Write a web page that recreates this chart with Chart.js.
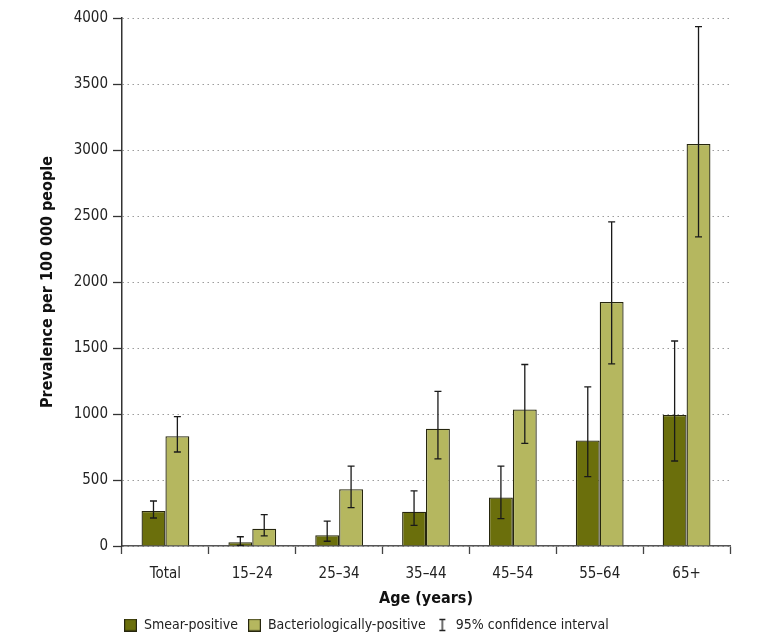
<!DOCTYPE html>
<html>
<head>
<meta charset="utf-8">
<script src="https://cdn.jsdelivr.net/npm/chart.js@4/dist/chart.umd.min.js"></script>
<style>
  html,body{margin:0;padding:0;background:#fff;}
  #wrap{width:771px;height:639px;position:relative;}
</style>
</head>
<body>
<div id="wrap"><canvas id="c" width="771" height="639"></canvas></div>
<script>
const categories = ["Total", "15\u201324", "25\u201334", "35\u201344", "45\u201354", "55\u201364", "65+"];
const smearValues = [265, 28, 81, 259, 367, 800, 993];
const smearLow    = [212, 5, 36, 157, 208, 525, 644];
const smearHigh   = [341, 70, 188, 418, 605, 1205, 1553];
const bactValues  = [831, 131, 430, 889, 1035, 1848, 3045];
const bactLow     = [712, 77, 290, 660, 777, 1380, 2342];
const bactHigh    = [980, 237, 605, 1172, 1375, 2455, 3934];
const yTicks = [0, 500, 1000, 1500, 2000, 2500, 3000, 3500, 4000];

const FONT = "'Liberation Sans Narrow', 'DejaVu Sans Condensed', 'Open Sans', sans-serif";
const DARK = '#6b6f0c';
const LIGHT = '#b5b75f';
const EDGE = '#26260e';
const errLow = [smearLow, bactLow];
const errHigh = [smearHigh, bactHigh];

function boxIcon(fill) {
  const cv = document.createElement('canvas');
  cv.width = 13; cv.height = 13;
  const g = cv.getContext('2d');
  g.fillStyle = fill; g.fillRect(0.5, 0.5, 12, 12);
  g.strokeStyle = EDGE; g.lineWidth = 1.2; g.strokeRect(0.6, 0.6, 11.8, 11.8);
  return cv;
}
function ciIcon() {
  const cv = document.createElement('canvas');
  cv.width = 10; cv.height = 14;
  const g = cv.getContext('2d');
  g.strokeStyle = '#222'; g.lineWidth = 1.3;
  g.beginPath();
  g.moveTo(2, 1.5); g.lineTo(8, 1.5);
  g.moveTo(5, 1.5); g.lineTo(5, 12.5);
  g.moveTo(2, 12.5); g.lineTo(8, 12.5);
  g.stroke();
  return cv;
}
const legendIcons = [boxIcon(DARK), boxIcon(LIGHT), ciIcon()];

const errorBars = {
  id: 'errorBars',
  afterDatasetsDraw(chart) {
    const ctx = chart.ctx;
    const y = chart.scales.y;
    ctx.save();
    ctx.strokeStyle = '#1a1a1a';
    ctx.lineWidth = 1.3;
    chart.data.datasets.forEach((ds, di) => {
      const meta = chart.getDatasetMeta(di);
      meta.data.forEach((bar, i) => {
        const x = bar.x;
        const yl = y.getPixelForValue(errLow[di][i]);
        const yh = y.getPixelForValue(errHigh[di][i]);
        const cap = 3.5;
        ctx.beginPath();
        ctx.moveTo(x, yl); ctx.lineTo(x, yh);
        ctx.moveTo(x - cap, yl); ctx.lineTo(x + cap, yl);
        ctx.moveTo(x - cap, yh); ctx.lineTo(x + cap, yh);
        ctx.stroke();
      });
    });
    ctx.restore();
  }
};

const legendShift = {
  id: 'legendShift',
  afterLayout(chart) {
    const lg = chart.legend;
    if (lg) { lg.left = 114; }
  }
};

new Chart(document.getElementById('c'), {
  type: 'bar',
  data: {
    labels: categories,
    datasets: [
      { label: 'Smear-positive', data: smearValues, backgroundColor: DARK, borderColor: EDGE, borderWidth: 1.3, categoryPercentage: 0.55, barPercentage: 1.0 },
      { label: 'Bacteriologically-positive', data: bactValues, backgroundColor: LIGHT, borderColor: EDGE, borderWidth: 1.3, categoryPercentage: 0.55, barPercentage: 1.0 }
    ]
  },
  options: {
    responsive: false,
    animation: false,
    devicePixelRatio: 1,
    layout: { padding: { left: 28, right: 41, top: 18, bottom: -3 } },
    plugins: {
      tooltip: { enabled: false },
      legend: {
        position: 'bottom',
        align: 'start',
        labels: {
          font: { family: FONT, size: 14 },
          color: '#222',
          usePointStyle: true,
          pointStyleWidth: 13,
          boxHeight: 13,
          padding: 10,
          generateLabels(chart) {
            const names = ['Smear-positive', 'Bacteriologically-positive', '95% confidence interval'];
            return names.map((t, i) => ({
              text: t, pointStyle: legendIcons[i], fillStyle: 'rgba(0,0,0,0)', strokeStyle: 'rgba(0,0,0,0)',
              lineWidth: 0, hidden: false, fontColor: '#222', datasetIndex: i < 2 ? i : undefined
            }));
          }
        },
        onClick: null
      }
    },
    scales: {
      x: {
        afterFit(scale) { scale.height = 62; },
        grid: { display: true, drawOnChartArea: false, drawTicks: true, tickLength: 8, tickColor: '#444', tickWidth: 1.3, offset: true },
        border: { color: '#555', width: 1.5 },
        ticks: { font: { family: FONT, size: 15 }, color: '#222', padding: 11 },
        title: { display: true, text: 'Age (years)', font: { family: FONT, size: 16, weight: 'bold' }, color: '#111', padding: { top: 0, bottom: 0 } }
      },
      y: {
        min: 0, max: 4000,
        afterBuildTicks(scale) { scale.ticks = yTicks.map(v => ({ value: v })); },
        afterFit(scale) { scale.width = 94; },
        grid: { color: '#9c9c9c', lineWidth: 1, tickColor: '#333', tickBorderDash: [], tickLength: 9, tickWidth: 1.3 },
        border: { color: '#333', width: 1.5, dash: [1.5, 3.5] },
        ticks: { font: { family: FONT, size: 15 }, color: '#222', padding: 5, callback: (v) => String(v) },
        title: { display: true, text: 'Prevalence per 100 000 people', font: { family: FONT, size: 16, weight: 'bold' }, color: '#111', padding: { top: 10, bottom: 0 } }
      }
    }
  },
  plugins: [errorBars, legendShift]
});
</script>
</body>
</html>
